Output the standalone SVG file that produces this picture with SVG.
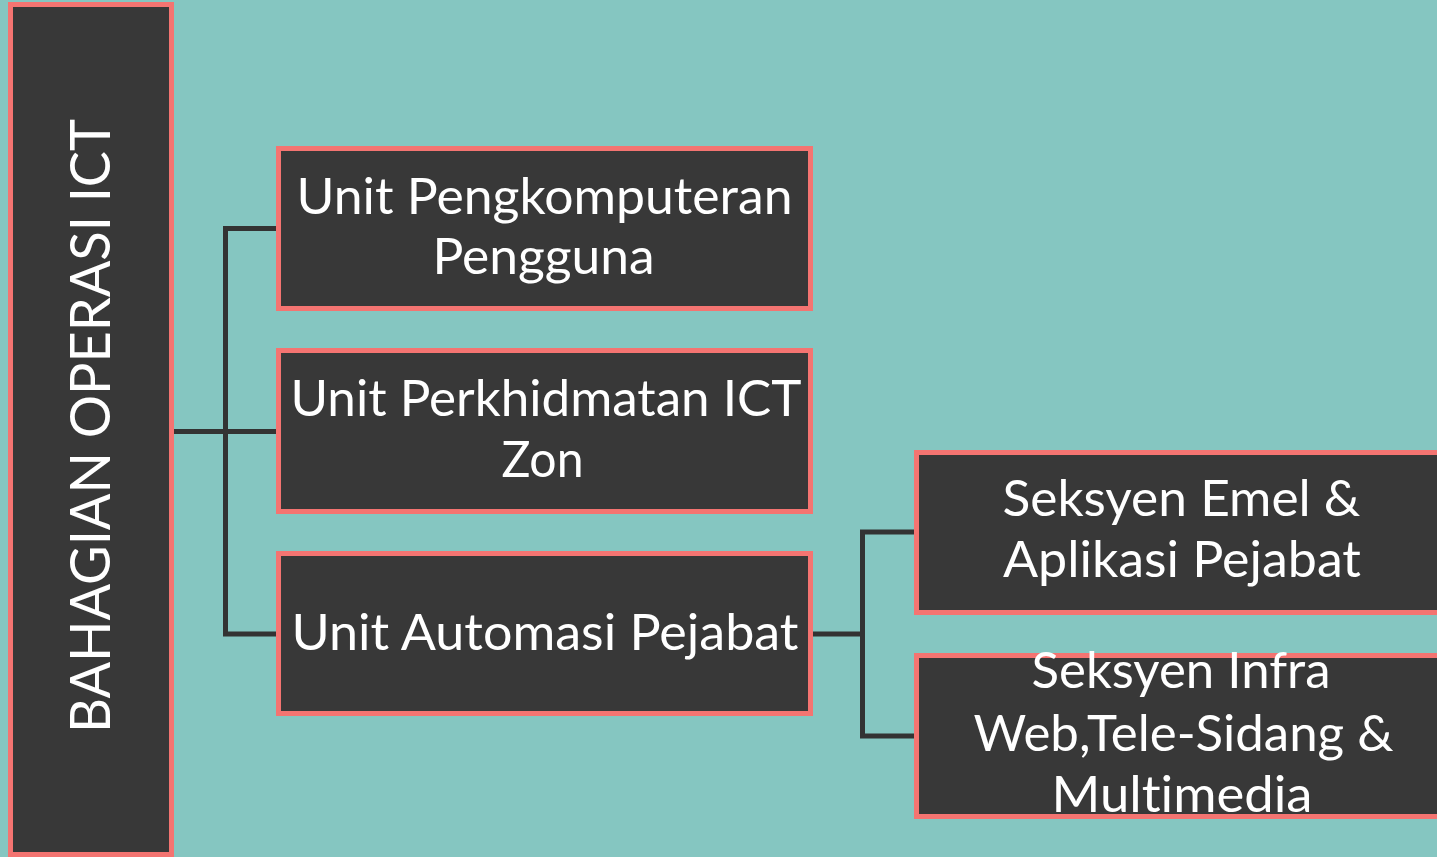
<svg xmlns="http://www.w3.org/2000/svg" width="1437" height="857" viewBox="0 0 1437 857">
  <style>
    .box { fill: #383838; stroke: #F47471; stroke-width: 5; }
    .lbl { fill: #FFFFFF; font-family: Lato, "Open Sans", "Liberation Sans", sans-serif; font-size: 50px; text-anchor: middle; font-variant-ligatures: none; font-feature-settings: "liga" 0, "clig" 0; }
    .conn { fill: none; stroke: #333333; stroke-width: 5; stroke-linejoin: miter; }
  </style>
  <rect x="0" y="0" width="1437" height="857" fill="#85C6C1"/>

  <g id="connectors">
    <path class="conn" d="M174,431.5 H276 M276,228.5 H225.5 V634 H276"/>
    <path class="conn" d="M813,634 H862.5 M914,532 H862.5 V736 H914"/>
  </g>

  <g id="node-root">
    <rect class="box" x="10.5" y="4.5" width="161" height="850"/>
    <text class="lbl" style="font-size:57px" transform="translate(110,426) rotate(-90)" x="0" y="0" textLength="614" lengthAdjust="spacingAndGlyphs">BAHAGIAN OPERASI ICT</text>
  </g>

  <g id="node-pengkomputeran">
    <rect class="box" x="278.5" y="148.5" width="532" height="160"/>
    <text class="lbl" x="544.5" y="214" textLength="496" lengthAdjust="spacingAndGlyphs">Unit Pengkomputeran</text>
    <text class="lbl" x="543.5" y="274" textLength="222" lengthAdjust="spacingAndGlyphs">Pengguna</text>
  </g>

  <g id="node-perkhidmatan">
    <rect class="box" x="278.5" y="350.5" width="532" height="161"/>
    <text class="lbl" x="546" y="416" textLength="511" lengthAdjust="spacingAndGlyphs">Unit Perkhidmatan ICT</text>
    <text class="lbl" x="542.5" y="477" textLength="82" lengthAdjust="spacingAndGlyphs">Zon</text>
  </g>

  <g id="node-automasi">
    <rect class="box" x="278.5" y="553.5" width="532" height="160"/>
    <text class="lbl" x="545" y="650" textLength="507" lengthAdjust="spacingAndGlyphs">Unit Automasi Pejabat</text>
  </g>

  <g id="node-emel">
    <rect class="box" x="916.5" y="452.5" width="540" height="160"/>
    <text class="lbl" x="1181.5" y="516" textLength="358" lengthAdjust="spacingAndGlyphs">Seksyen Emel &amp;</text>
    <text class="lbl" x="1182" y="577" textLength="358" lengthAdjust="spacingAndGlyphs">Aplikasi Pejabat</text>
  </g>

  <g id="node-infra">
    <rect class="box" x="916.5" y="655.5" width="540" height="161"/>
    <text class="lbl" x="1181" y="688" textLength="299" lengthAdjust="spacingAndGlyphs">Seksyen Infra</text>
    <text class="lbl" x="1183.5" y="751" textLength="420" lengthAdjust="spacingAndGlyphs">Web,Tele-Sidang &amp;</text>
    <text class="lbl" x="1182" y="812" textLength="261" lengthAdjust="spacingAndGlyphs">Multimedia</text>
  </g>
</svg>
